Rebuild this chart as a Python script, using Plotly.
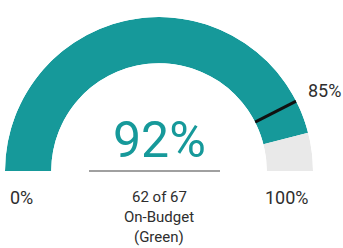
import plotly.graph_objects as go

# Data
value_pct = [92]
target_pct = [85]
range_pct = [0, 100]
count_on = [62]
count_total = [67]
tick_labels = ["0%", "100%", "85%"]
center_label = ["On-Budget", "(Green)"]

TEAL = "#16999a"
GRAY_BG = "#e9e9e9"
TXT = "#2e2e2e"
FONT = "Roboto"

deg = 180.0 / (range_pct[1] - range_pct[0])
v = value_pct[0]
t = target_pct[0]
lo, hi = range_pct

fig = go.Figure()
fig.add_trace(go.Barpolar(
    r=[1, 1],
    theta=[(lo + v) / 2 * deg, (v + hi) / 2 * deg],
    width=[(v - lo) * deg, (hi - v) * deg],
    marker=dict(color=[TEAL, GRAY_BG], line=dict(width=0)),
    hoverinfo="skip", showlegend=False,
))
fig.add_trace(go.Scatterpolar(
    r=[0, 1], theta=[t * deg, t * deg], mode="lines",
    line=dict(color="#111111", width=3), hoverinfo="skip", showlegend=False,
))

fig.update_layout(
    width=343, height=248,
    margin=dict(l=0, r=0, t=0, b=0),
    paper_bgcolor="white",
    font=dict(family=FONT, color=TXT),
    polar=dict(
        domain=dict(x=[5 / 343, 313 / 343], y=[1 - 171 / 248, 1 - 17 / 248]),
        sector=[0, 180],
        hole=0.70,
        bgcolor="white",
        radialaxis=dict(range=[0, 1], visible=False),
        angularaxis=dict(rotation=180, direction="clockwise", visible=False,
                         showgrid=False),
        barmode="overlay",
    ),
    bargap=0,
)

def py(p):
    return 1 - p / 248

def px(p):
    return p / 343

fig.add_annotation(x=px(159), y=py(140), xref="paper", yref="paper",
                   yanchor="middle", xanchor="center",
                   text=f"{v}%", showarrow=False,
                   font=dict(size=50, color=TEAL, family=FONT))
fig.add_shape(type="line", xref="paper", yref="paper",
              x0=px(89), x1=px(220), y0=py(171), y1=py(171),
              line=dict(color="#a0a0a0", width=2))
for txt, yy in [(f"{count_on[0]} of {count_total[0]}", 197),
                (center_label[0], 217), (center_label[1], 237)]:
    fig.add_annotation(x=px(159), y=py(yy), xref="paper", yref="paper",
                       yanchor="middle", xanchor="center",
                       text=txt, showarrow=False,
                       font=dict(size=15, color=TXT, family=FONT))
fig.add_annotation(x=px(8), y=py(197), xref="paper", yref="paper",
                   xanchor="left", yanchor="middle", text=tick_labels[0], showarrow=False,
                   font=dict(size=18, color=TXT, family=FONT))
fig.add_annotation(x=px(311), y=py(197), xref="paper", yref="paper",
                   xanchor="right", yanchor="middle", text=tick_labels[1], showarrow=False,
                   font=dict(size=18, color=TXT, family=FONT))
fig.add_annotation(x=px(343), y=py(90), xref="paper", yref="paper",
                   xanchor="right", yanchor="middle", text=tick_labels[2], showarrow=False,
                   font=dict(size=18, color=TXT, family=FONT))

fig.write_html("out.html", config={"displayModeBar": False},
               post_script="document.body.style.margin='0px';document.body.style.overflow='hidden';")
